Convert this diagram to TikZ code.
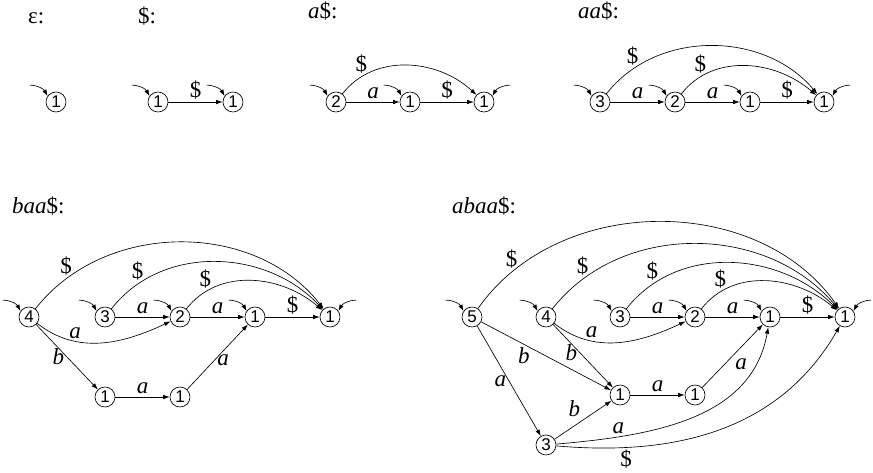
\documentclass[tikz,border=0pt]{standalone}
\usepackage{fontspec}
\setmainfont{Liberation Serif}
\newfontfamily\digitfont{Liberation Sans}
\usetikzlibrary{arrows.meta}
\tikzset{
  st/.style={circle,draw,line width=0.65pt,inner sep=0pt,minimum size=20pt,font=\digitfont\fontsize{17}{17}\selectfont},
  e/.style={line width=0.65pt,-{Latex[length=6.5pt,width=4.5pt]}},
  lbl/.style={font=\fontsize{23}{25}\selectfont,inner sep=2.5pt},
  ttl/.style={font=\fontsize{23}{25}\selectfont,anchor=base west,inner sep=0pt},
  arc/.style={e,out=52},
  arcl/.style={lbl,above=1pt},
}
\newcommand\initl[1]{\draw[e] ([shift={(-18,11)}]#1.145) to[bend left=30] (#1.145);}
\newcommand\initr[1]{\draw[e] ([shift={(18,11)}]#1.35) to[bend right=30] (#1.35);}
\begin{document}
\begin{tikzpicture}[x=1pt,y=1pt]
\useasboundingbox (0,0) rectangle (873,-472);
% titles
\node[ttl] (t1) at (28,-23) {ε:};
\node[ttl] (t2) at (138,-23) {\$:};
\node[ttl] (t3) at (308,-18) {\textit{a}\$:};
\node[ttl] (t4) at (578,-18) {\textit{aa}\$:};
\node[ttl] (t5) at (12,-213) {\textit{baa}\$:};
\node[ttl] (t6) at (452,-213) {\textit{abaa}\$:};
% epsilon
\node[st] (e1) at (56,-102) {1};
\initl{e1}
% $
\node[st] (s1) at (158,-102) {1};
\node[st] (s2) at (233,-102) {1};
\initl{s1}\initl{s2}
\draw[e] (s1) -- node[lbl,above] {\$} (s2);
% a$
\node[st] (a2) at (336,-102) {2};
\node[st] (a1) at (410,-102) {1};
\node[st] (a0) at (484,-102) {1};
\initl{a2}\initl{a1}\initr{a0}
\draw[e] (a2) -- node[lbl,above] {\textit{a}} (a1);
\draw[e] (a1) -- node[lbl,above] {\$} (a0);
\draw[arc] (a2) to[in=137] node[arcl,pos=0.17] {\$} (a0);
% aa$
\node[st] (b3) at (600,-102) {3};
\node[st] (b2) at (675,-102) {2};
\node[st] (b1) at (750,-102) {1};
\node[st] (b0) at (824,-102) {1};
\initl{b3}\initl{b2}\initl{b1}\initr{b0}
\draw[e] (b3) -- node[lbl,above] {\textit{a}} (b2);
\draw[e] (b2) -- node[lbl,above] {\textit{a}} (b1);
\draw[e] (b1) -- node[lbl,above] {\$} (b0);
\draw[arc] (b3) to[in=130] node[arcl,pos=0.15] {\$} (b0);
\draw[arc] (b2) to[in=139] node[arcl,pos=0.17] {\$} (b0);
% baa$
\node[st] (c4) at (29,-317) {4};
\node[st] (c3) at (105,-317) {3};
\node[st] (c2) at (180,-317) {2};
\node[st] (c1) at (255,-317) {1};
\node[st] (c0) at (330,-317) {1};
\node[st] (cl1) at (105,-397) {1};
\node[st] (cl2) at (180,-397) {1};
\initl{c4}\initl{c3}\initl{c2}\initl{c1}\initr{c0}
\draw[e] (c3) -- node[lbl,above] {\textit{a}} (c2);
\draw[e] (c2) -- node[lbl,above] {\textit{a}} (c1);
\draw[e] (c1) -- node[lbl,above] {\$} (c0);
\draw[arc] (c4) to[in=128] node[arcl,pos=0.13] {\$} (c0);
\draw[arc] (c3) to[in=133] node[arcl,pos=0.15] {\$} (c0);
\draw[arc] (c2) to[in=139] node[arcl,pos=0.17] {\$} (c0);
\draw[e] (c4) to[out=-38,in=-155] node[lbl,pos=0.3,above] {\textit{a}} (c2);
\draw[e] (c4) -- node[lbl,left] {\textit{b}} (cl1);
\draw[e] (cl1) -- node[lbl,above] {\textit{a}} (cl2);
\draw[e] (cl2) -- node[lbl,pos=0.45,right] {\textit{a}} (c1);
% abaa$
\node[st] (d5) at (472,-317) {5};
\node[st] (d4) at (546,-317) {4};
\node[st] (d3) at (620,-317) {3};
\node[st] (d2) at (695,-317) {2};
\node[st] (d1) at (770,-317) {1};
\node[st] (d0) at (845,-317) {1};
\node[st] (dl1) at (620,-395) {1};
\node[st] (dl2) at (695,-395) {1};
\node[st] (db3) at (546,-445) {3};
\initl{d5}\initl{d4}\initl{d3}\initl{d2}\initl{d1}\initr{d0}
\draw[e] (d3) -- node[lbl,above] {\textit{a}} (d2);
\draw[e] (d2) -- node[lbl,above] {\textit{a}} (d1);
\draw[e] (d1) -- node[lbl,above] {\$} (d0);
\draw[arc,out=55] (d5) to[in=125] node[arcl,pos=0.12] {\$} (d0);
\draw[arc] (d4) to[in=130] node[arcl,pos=0.13] {\$} (d0);
\draw[arc] (d3) to[in=135] node[arcl,pos=0.15] {\$} (d0);
\draw[arc] (d2) to[in=140] node[arcl,pos=0.17] {\$} (d0);
\draw[e] (d4) to[out=-38,in=-155] node[lbl,pos=0.3,above] {\textit{a}} (d2);
\draw[e] (d5) -- node[lbl,pos=0.33,below] {\textit{b}} (dl1);
\draw[e] (d4) -- node[lbl,pos=0.45,left] {\textit{b}} (dl1);
\draw[e] (d5) -- node[lbl,left] {\textit{a}} (db3);
\draw[e] (db3) -- node[lbl,above left=0pt] {\textit{b}} (dl1);
\draw[e] (dl1) -- node[lbl,above] {\textit{a}} (dl2);
\draw[e] (dl2) -- node[lbl,below right=0pt] {\textit{a}} (d1);
\draw[e] (db3) to[out=5,in=-100] node[lbl,pos=0.22,above] {\textit{a}} (d1);
\draw[e] (db3) to[out=-5,in=-120] node[lbl,pos=0.2,below] {\$} (d0);
\end{tikzpicture}
\end{document}
